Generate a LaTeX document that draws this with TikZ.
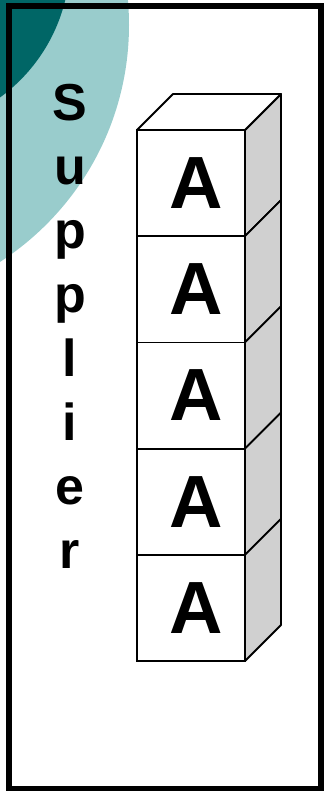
\documentclass[tikz,border=0pt]{standalone}
\usepackage{fontspec}
\setmainfont{Liberation Sans}
\usetikzlibrary{calc}
\definecolor{darkteal}{HTML}{006666}
\definecolor{lightteal}{HTML}{99CCCC}
\definecolor{sidegray}{HTML}{D0D0D0}
\begin{document}
\begin{tikzpicture}[x=1bp,y=-1bp,
  face/.style={draw=black, line width=1.8bp, fill=white,
    minimum width=108bp, minimum height=106.2bp, inner sep=0pt, outer sep=0pt,
    font=\fontsize{74bp}{74bp}\selectfont\bfseries},
  sideface/.style={draw=black, line width=1.8bp, fill=sidegray, line join=round},
  topface/.style={draw=black, line width=1.8bp, fill=white, line join=round},
  frame/.style={draw=black, line width=6bp},
  label/.style={font=\fontsize{52bp}{64bp}\selectfont\bfseries, align=center,
    inner sep=0pt, anchor=base}]
\useasboundingbox (0,0) rectangle (329,791);

% decorative discs in the upper left corner
\begin{scope}
  \clip (0,0) rectangle (329,791);
  \fill[lightteal] (-153,25) circle (282);
  \fill[darkteal] (-100,-40) circle (170);
\end{scope}

% outer frame
\draw[frame] (9,6) rectangle (321,788.5);

% stack of five cubes (letter set a little right of the face centre)
\foreach \i in {0,...,4}{
  \node[face] (a\i) at (191,183.1+106.2*\i) {\hspace*{10bp}A};
  \draw[sideface] (a\i.south east) -- ++(36,-36) -- ++(0,-106.2)
    -- (a\i.north east) -- cycle;
}
\draw[topface] (a0.north west) -- ++(36,-36) -- ++(108,0)
  -- (a0.north east) -- cycle;

% vertical caption, anchored at the baseline of its last letter
\node[label] (supplier) at (70,568) {S\\u\\p\\p\\l\\i\\e\\r};
\end{tikzpicture}
\end{document}
